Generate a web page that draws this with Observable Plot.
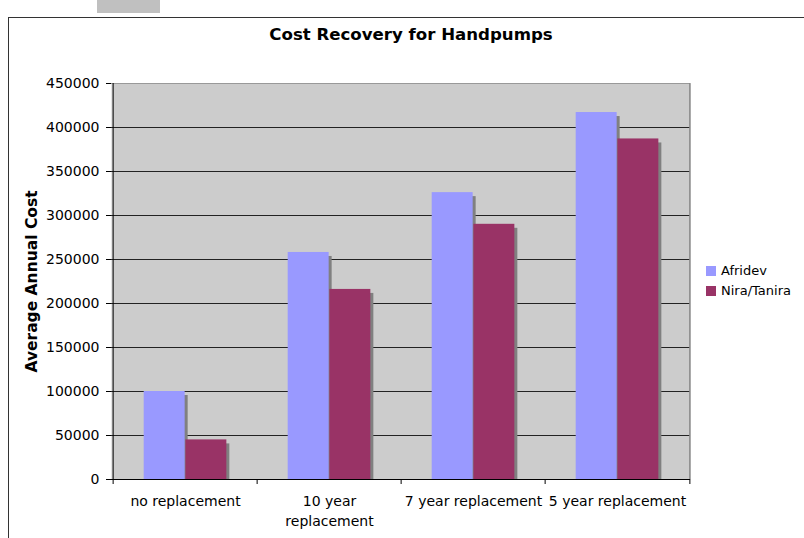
<!DOCTYPE html>
<html><head><meta charset="utf-8">
<script src="https://cdn.jsdelivr.net/npm/d3@7"></script>
<script src="https://cdn.jsdelivr.net/npm/@observablehq/plot@0.6"></script>
<style>
body{margin:0;background:#fff;}
#wrap{position:relative;width:804px;height:538px;overflow:hidden;font-family:"DejaVu Sans",Verdana,sans-serif;color:#000;}
#frame{position:absolute;left:8px;top:17px;width:820px;height:560px;border-top:1px solid #333;border-left:1px solid #333;}
#topbox{position:absolute;left:97px;top:0;width:63px;height:13px;background:#c0c0c0;}
#chart{position:absolute;left:0;top:0;}
#legend{position:absolute;left:706px;top:261px;font-size:13px;line-height:20px;}
#legend .item{display:flex;align-items:center;}
#legend .sw{width:10px;height:10px;margin-right:5px;}
</style></head><body>
<div id="wrap">
  <div id="topbox"></div>
  <div id="frame"></div>
  <div id="chart"></div>
  <div id="legend"></div>
</div>
<script>
const title = "Cost Recovery for Handpumps";
const yLabel = "Average Annual Cost";
const categories = ["no replacement", "10 year\nreplacement", "7 year replacement", "5 year replacement"];
const series = ["Afridev", "Nira/Tanira"];
const afridev = [100000, 258000, 326000, 417000];
const nira = [45000, 216000, 290000, 387000];
const yTicks = [0, 50000, 100000, 150000, 200000, 250000, 300000, 350000, 400000, 450000];
const colors = ["#9999ff", "#993366"];

const values = [afridev, nira];
const data = categories.flatMap((c, i) => series.map((s, j) => ({category: c, series: s, value: values[j][i]})));

const W = 804, H = 538, mL = 111, mR = 114, mT = 83, mB = 59;
const step = (W - mL - mR) / categories.length;
const barW = 41.7, groupOff = 30.7;
const insets = [
  {insetLeft: groupOff, insetRight: step - groupOff - barW},
  {insetLeft: groupOff + barW, insetRight: step - groupOff - 2 * barW}
];

const marks = [
  Plot.frame({fill: "#cccccc", stroke: null}),
  Plot.ruleY(yTicks.filter(d => d > 0 && d < 450000), {stroke: "#222", strokeWidth: 1})
];
series.forEach((s, j) => {
  marks.push(Plot.barY(data.filter(d => d.series === s), {x: "category", y: "value", fill: "#808080", dx: 3, dy: 4, insetBottom: 4, ...insets[j]}));
});
series.forEach((s, j) => {
  marks.push(Plot.barY(data.filter(d => d.series === s), {x: "category", y: "value", fill: colors[j], ...insets[j]}));
});
marks.push(
  Plot.ruleY([450000], {stroke: "#999"}),
  Plot.ruleX([categories[categories.length - 1]], {dx: step / 2, stroke: "#888", strokeWidth: 1.5}),
  Plot.ruleX([categories[0]], {dx: -step / 2, stroke: "#000"}),
  Plot.ruleY([0], {stroke: "#000"}),
  Plot.axisY(yTicks, {tickSize: 5, tickPadding: 7, tickFormat: d => String(d), fontSize: 14, label: null}),
  Plot.axisX(categories, {tickSize: 5, tickFormat: () => "", dx: -step / 2, label: null}),
  Plot.axisX([categories[categories.length - 1]], {tickSize: 5, tickFormat: () => "", dx: step / 2, label: null}),
  Plot.axisX(categories, {tickSize: 0, tickPadding: 12, fontSize: 14, lineHeight: 1.45, label: null}),
  Plot.text([yLabel], {frameAnchor: "left", dx: -79, rotate: -90, fontWeight: "bold", fontSize: 15.5, textAnchor: "middle", lineAnchor: "middle"}),
  Plot.text([title], {frameAnchor: "top", dx: 10, dy: -49, fontWeight: "bold", fontSize: 16.6, textAnchor: "middle", lineAnchor: "middle"})
);

const chart = Plot.plot({
  width: W, height: H,
  marginLeft: mL, marginRight: mR, marginTop: mT, marginBottom: mB,
  x: {domain: categories, padding: 0, axis: null},
  y: {domain: [0, 450000], axis: null},
  style: {fontFamily: '"DejaVu Sans", Verdana, sans-serif', fontSize: "13px", color: "#000", background: "transparent", overflow: "visible"},
  marks
});
document.getElementById("chart").appendChild(chart);

const legend = document.getElementById("legend");
series.forEach((s, j) => {
  const item = document.createElement("div");
  item.className = "item";
  const sw = document.createElement("span");
  sw.className = "sw";
  sw.style.background = colors[j];
  const t = document.createElement("span");
  t.textContent = s;
  item.appendChild(sw); item.appendChild(t);
  legend.appendChild(item);
});
</script>
</body></html>
